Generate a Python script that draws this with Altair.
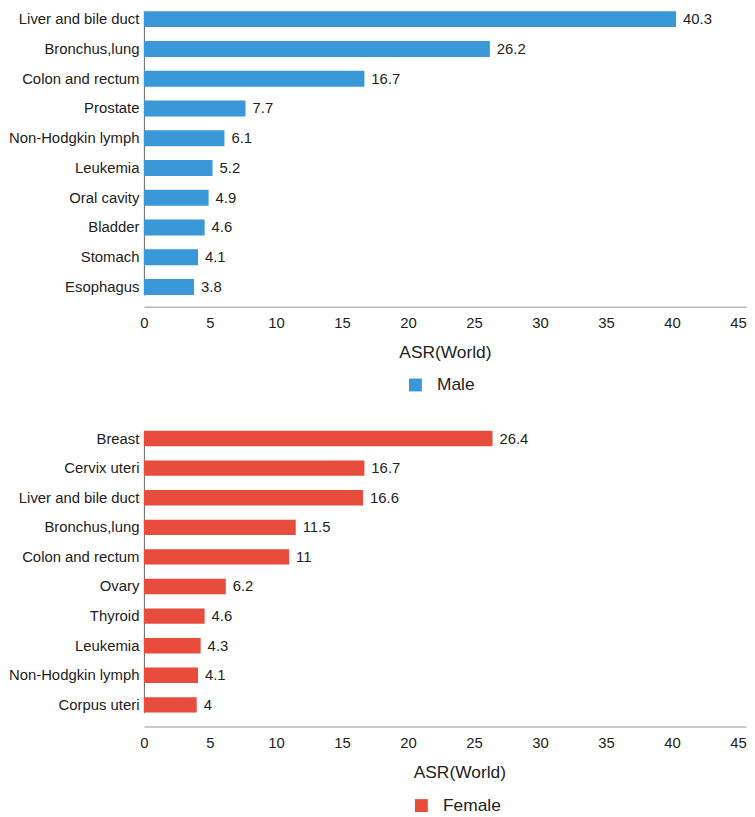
import altair as alt
import pandas as pd

male_cats = ["Liver and bile duct", "Bronchus,lung", "Colon and rectum", "Prostate",
             "Non-Hodgkin lymph", "Leukemia", "Oral cavity", "Bladder", "Stomach", "Esophagus"]
male_vals = [40.3, 26.2, 16.7, 7.7, 6.1, 5.2, 4.9, 4.6, 4.1, 3.8]

female_cats = ["Breast", "Cervix uteri", "Liver and bile duct", "Bronchus,lung", "Colon and rectum",
               "Ovary", "Thyroid", "Leukemia", "Non-Hodgkin lymph", "Corpus uteri"]
female_vals = [26.4, 16.7, 16.6, 11.5, 11, 6.2, 4.6, 4.3, 4.1, 4]

x_ticks = [0, 5, 10, 15, 20, 25, 30, 35, 40, 45]

FONT = "Liberation Sans"
TXT = "#222222"


def panel(cats, vals, sex, color, height, y_range, pi, lx, ly, title_x=None):
    df = pd.DataFrame({"cancer": cats, "asr": vals, "sex": [sex] * len(cats)})
    xaxis_kw = dict(values=x_ticks, title="ASR(World)", grid=False, ticks=False,
                    domainColor="#b8b8b8", domainWidth=1.5, labelFontSize=15, labelPadding=9,
                    labelColor=TXT, labelFlush=False, titleFontSize=17.5,
                    titleFontWeight="normal", titleColor=TXT, titlePadding=13)
    if title_x is not None:
        xaxis_kw["titleX"] = title_x
    base = alt.Chart(df).encode(
        y=alt.Y("cancer:N", sort=cats,
                scale=alt.Scale(range=y_range, paddingInner=pi, paddingOuter=0),
                axis=alt.Axis(title=None, ticks=False, labelFontSize=15, labelPadding=5,
                              labelColor=TXT, domainColor="#666666", labelLimit=300)),
        x=alt.X("asr:Q", scale=alt.Scale(domain=[0, 45.6], nice=False, zero=True),
                axis=alt.Axis(**xaxis_kw)),
    )
    bars = base.mark_bar().encode(
        color=alt.Color("sex:N", scale=alt.Scale(domain=[sex], range=[color]),
                        legend=alt.Legend(title=None, orient="none", legendX=lx, legendY=ly,
                                          symbolType="square", symbolSize=169,
                                          symbolStrokeWidth=0, labelFontSize=17.5,
                                          labelColor=TXT, labelOffset=13, padding=0))
    )
    text = base.mark_text(align="left", baseline="middle", dx=7, fontSize=15,
                          color=TXT).encode(text=alt.Text("asr:Q"))
    return (bars + text).properties(width=607, height=height)


top = panel(male_cats, male_vals, "Male", "#3a98d8", 298, [0, 286], 0.467, 265, 368)
bottom = panel(female_cats, female_vals, "Female", "#e84c3d", 307, [9, 293], 0.48, 271, 378, 318)

chart = alt.vconcat(top, bottom, spacing=28).resolve_scale(
    color="independent"
).resolve_legend(color="independent").properties(padding=0).configure(
    font=FONT
).configure_view(stroke=None)

chart.save("out.html", embed_options={"renderer": "svg", "actions": False})
